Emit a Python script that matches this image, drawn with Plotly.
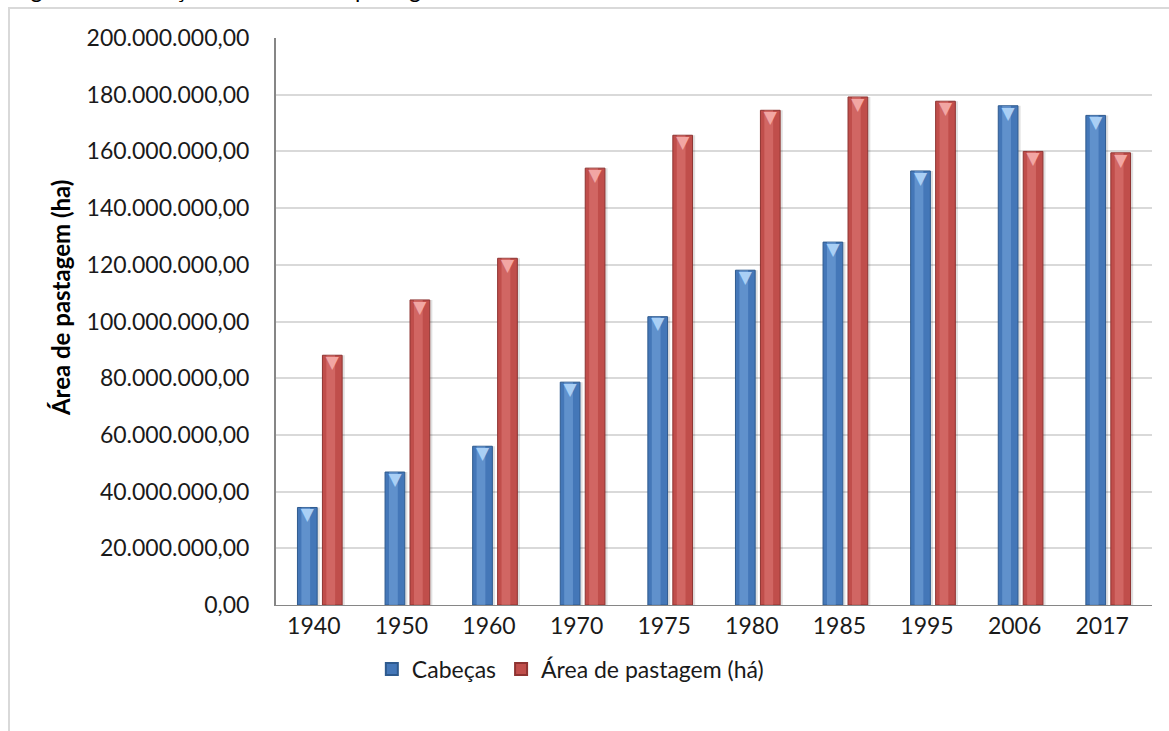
import plotly.graph_objects as go

years = ["1940", "1950", "1960", "1970", "1975", "1980", "1985", "1995", "2006", "2017"]
cabecas = [34.4e6, 46.9e6, 56.0e6, 78.6e6, 101.7e6, 118.1e6, 128.0e6, 153.1e6, 176.1e6, 172.7e6]
area_pastagem = [88.1e6, 107.6e6, 122.3e6, 154.1e6, 165.7e6, 174.5e6, 179.2e6, 177.7e6, 160.0e6, 159.5e6]
y_ticks = [0, 20e6, 40e6, 60e6, 80e6, 100e6, 120e6, 140e6, 160e6, 180e6, 200e6]
y_tick_labels = ["0,00", "20.000.000,00", "40.000.000,00", "60.000.000,00", "80.000.000,00",
                 "100.000.000,00", "120.000.000,00", "140.000.000,00", "160.000.000,00",
                 "180.000.000,00", "200.000.000,00"]

idx = list(range(len(years)))
FONT = "Lato"
FS = 23
W = 0.225
OFF_B = -0.255
OFF_R = 0.03

fig = go.Figure()

# shadows
for vals, off in [(cabecas, OFF_B), (area_pastagem, OFF_R)]:
    fig.add_trace(go.Bar(x=idx, y=vals, offset=off + 0.03, width=W,
                         marker=dict(color="rgba(0,0,0,0.12)", line=dict(width=0)),
                         showlegend=False, hoverinfo="skip"))

fig.add_trace(go.Bar(x=idx, y=cabecas, name="Cabeças", offset=OFF_B, width=W,
                     marker=dict(color="#4477B8", line=dict(color="#2E5A8E", width=1))))
fig.add_trace(go.Bar(x=idx, y=area_pastagem, name="Área de pastagem (há)", offset=OFF_R, width=W,
                     marker=dict(color="#C04E4B", line=dict(color="#8E3331", width=1))))

# highlight bands
for vals, off, col in [(cabecas, OFF_B, "rgba(140,185,235,0.40)"), (area_pastagem, OFF_R, "rgba(235,140,135,0.40)")]:
    fig.add_trace(go.Bar(x=idx, y=vals, offset=off + 0.045, width=0.1,
                         marker=dict(color=col, line=dict(width=0)),
                         showlegend=False, hoverinfo="skip"))

# top chevrons
fig.add_trace(go.Scatter(x=[i + OFF_B + W / 2 for i in idx], y=cabecas, mode="text",
                         text=["▼"] * len(idx), textposition="bottom center",
                         textfont=dict(family="DejaVu Sans", size=17, color="#A9CFF5"),
                         showlegend=False, hoverinfo="skip", cliponaxis=False))
fig.add_trace(go.Scatter(x=[i + OFF_R + W / 2 for i in idx], y=area_pastagem, mode="text",
                         text=["▼"] * len(idx), textposition="bottom center",
                         textfont=dict(family="DejaVu Sans", size=17, color="#F2A6A3"),
                         showlegend=False, hoverinfo="skip", cliponaxis=False))

fig.update_layout(
    width=1169, height=731,
    margin=dict(l=276, r=17, t=38, b=126),
    paper_bgcolor="white", plot_bgcolor="white",
    barmode="overlay",
    font=dict(family=FONT, size=FS, color="#1a1a1a"),
    legend=dict(orientation="h", x=0.336, xanchor="center", y=-0.113, yanchor="middle",
                font=dict(size=FS), itemsizing="constant", traceorder="normal"),
    xaxis=dict(range=[-0.5, 9.5], tickvals=idx, ticktext=years, showgrid=False,
               showline=True, linecolor="#868686", linewidth=1, ticks="", zeroline=False,
               tickfont=dict(size=FS), ticklabelshift=-6),
    yaxis=dict(range=[0, 200e6], tickvals=y_ticks, ticktext=y_tick_labels,
               showgrid=True, gridcolor="#d9d9d9", gridwidth=1.5,
               showline=True, linecolor="#868686", linewidth=2, zeroline=False,
               ticks="", ticklabelstandoff=20, tickfont=dict(size=FS)),
    showlegend=True,
)

fig.add_annotation(xref="paper", yref="paper", x=-0.2466, y=0.543, xanchor="center", yanchor="middle",
                   text="<b>Área de pastagem (ha)</b>", textangle=-90, showarrow=False,
                   font=dict(size=FS + 1, color="#000000"))

fig.add_shape(type="rect", xref="paper", yref="paper", x0=-0.3048, x1=1.1, y0=-0.4, y1=1.0529,
              line=dict(color="#d9d9d9", width=2), layer="below")

fig.add_annotation(xref="paper", yref="paper", x=-0.3037, y=1.0575, xanchor="left", yanchor="bottom",
                   text="Figura 1 – Evolução do rebanho e pastagem no Brasil", showarrow=False,
                   font=dict(size=FS, color="#000000"))

fig.write_html("out.html", config={"displayModeBar": False},
               post_script="document.body.style.margin='0';")
